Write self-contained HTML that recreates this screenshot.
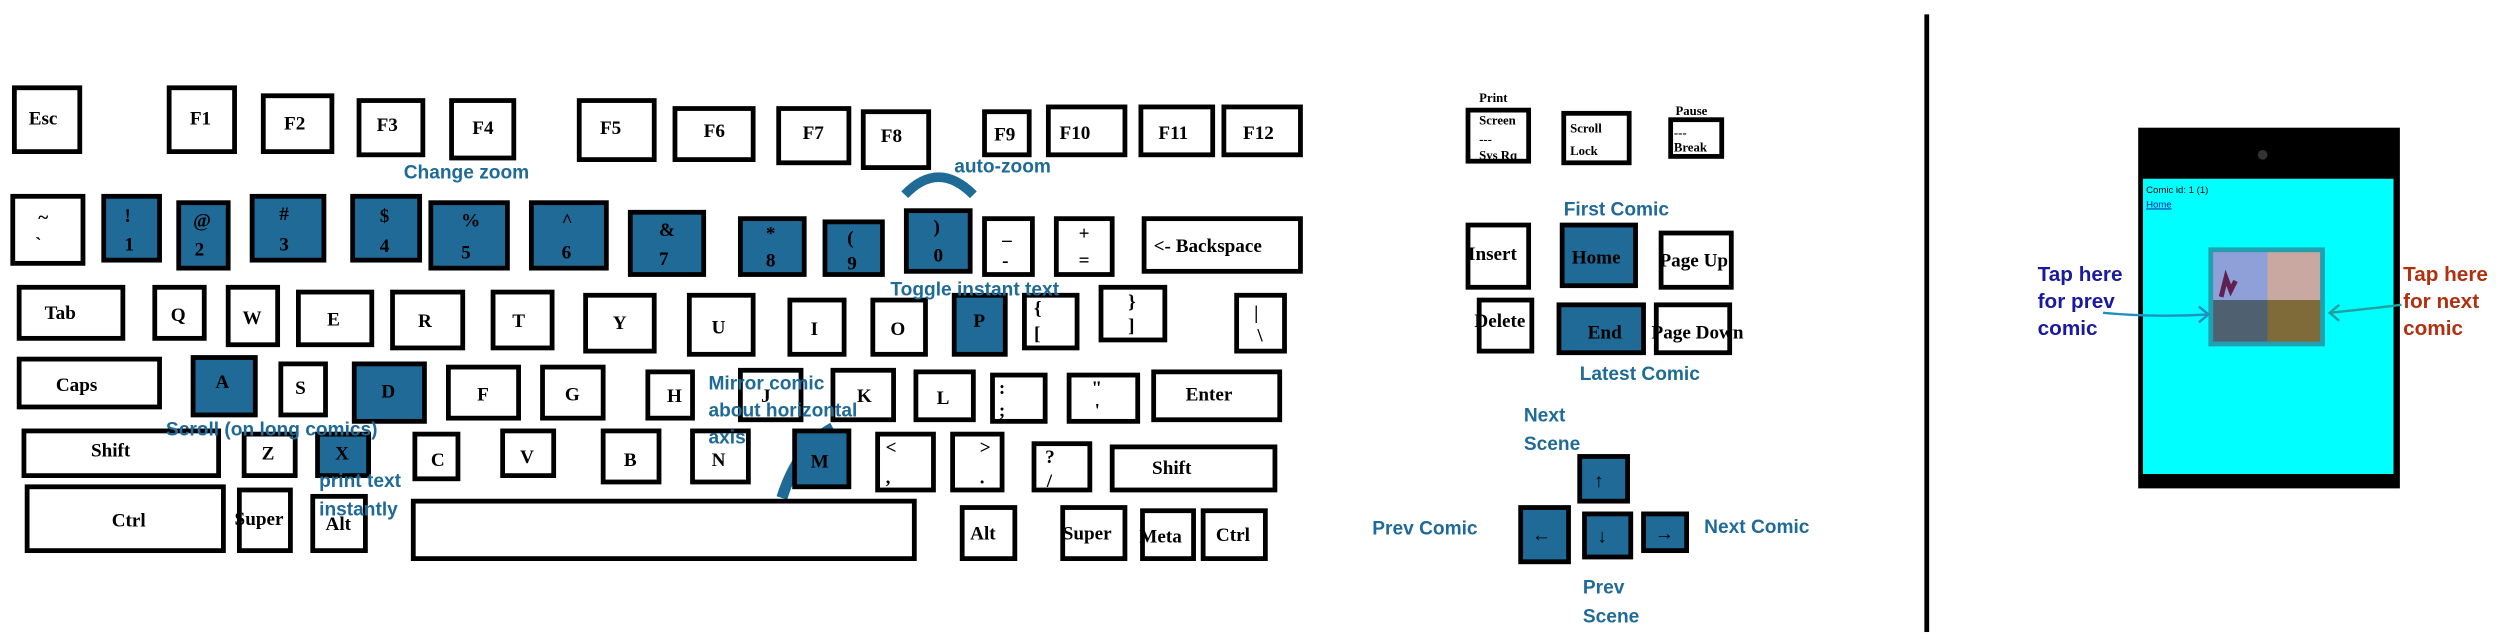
<!DOCTYPE html>
<html><head><meta charset="utf-8"><style>
html,body{margin:0;padding:0;background:#fff;}
svg{display:block;}
.k{fill:#fff;stroke:#000;stroke-width:3;}
.b{fill:#1f6a96;stroke:#000;stroke-width:3;}
.t{font-family:"Liberation Serif",serif;font-weight:bold;font-size:12px;fill:#000;}
.s{font-family:"Liberation Serif",serif;font-weight:bold;font-size:8px;fill:#000;}
.l{font-family:"Liberation Sans",sans-serif;font-weight:bold;font-size:12px;fill:#1f6a96;}
</style></head><body>
<svg width="2502" height="640" viewBox="0 0 1568 401" preserveAspectRatio="none" xmlns="http://www.w3.org/2000/svg">
<rect width="1568" height="401" fill="#fff"/>
<rect class="k" x="9" y="55" width="41" height="40"/><text class="t" x="18" y="78">Esc</text>
<rect class="k" x="106" y="55" width="41" height="40"/><text class="t" x="119" y="78">F1</text>
<rect class="k" x="165" y="60" width="43" height="35"/><text class="t" x="178" y="81">F2</text>
<rect class="k" x="225" y="63" width="40" height="34"/><text class="t" x="236" y="82">F3</text>
<rect class="k" x="283" y="63" width="39" height="36"/><text class="t" x="296" y="84">F4</text>
<rect class="k" x="363" y="63" width="47" height="37"/><text class="t" x="376" y="84">F5</text>
<rect class="k" x="423" y="68" width="49" height="32"/><text class="t" x="441" y="86">F6</text>
<rect class="k" x="488" y="68" width="44" height="34"/><text class="t" x="503" y="87">F7</text>
<rect class="k" x="541" y="70" width="41" height="35"/><text class="t" x="552" y="89">F8</text>
<rect class="k" x="617" y="70" width="28" height="27"/><text class="t" x="623" y="88">F9</text>
<rect class="k" x="657" y="67" width="48" height="30"/><text class="t" x="664" y="87">F10</text>
<rect class="k" x="715" y="67" width="45" height="30"/><text class="t" x="726" y="87">F11</text>
<rect class="k" x="767" y="67" width="48" height="30"/><text class="t" x="779" y="87">F12</text>
<text class="l" x="253" y="112" font-size="18">Change zoom</text>
<text class="l" x="598" y="108">auto-zoom</text>
<path d="M567 122 Q588 100 610 122" fill="none" stroke="#1f6a96" stroke-width="6"/>
<rect class="k" x="8" y="123" width="44" height="42"/><text class="t" x="24" y="140">~</text><text class="t" x="22" y="157">`</text>
<rect class="b" x="65" y="123" width="35" height="40"/><text class="t" x="78" y="139">!</text><text class="t" x="78" y="157">1</text>
<rect class="b" x="112" y="127" width="31" height="41"/><text class="t" x="121" y="142">@</text><text class="t" x="122" y="160">2</text>
<rect class="b" x="158" y="123" width="45" height="40"/><text class="t" x="175" y="138">#</text><text class="t" x="175" y="157">3</text>
<rect class="b" x="221" y="123" width="42" height="40"/><text class="t" x="238" y="139">$</text><text class="t" x="238" y="158">4</text>
<rect class="b" x="270" y="127" width="48" height="41"/><text class="t" x="289" y="142">%</text><text class="t" x="289" y="162">5</text>
<rect class="b" x="333" y="127" width="47" height="41"/><text class="t" x="352" y="142">^</text><text class="t" x="352" y="162">6</text>
<rect class="b" x="395" y="133" width="46" height="39"/><text class="t" x="413" y="148">&amp;</text><text class="t" x="413" y="166">7</text>
<rect class="b" x="464" y="137" width="40" height="35"/><text class="t" x="480" y="150">*</text><text class="t" x="480" y="167">8</text>
<rect class="b" x="517" y="139" width="36" height="33"/><text class="t" x="531" y="153">(</text><text class="t" x="531" y="169">9</text>
<rect class="b" x="568" y="132" width="40" height="38"/><text class="t" x="585" y="146">)</text><text class="t" x="585" y="164">0</text>
<rect class="k" x="617" y="137" width="30" height="35"/><text class="t" x="628" y="150">_</text><text class="t" x="628" y="167">-</text>
<rect class="k" x="662" y="137" width="35" height="35"/><text class="t" x="676" y="150">+</text><text class="t" x="676" y="167">=</text>
<rect class="k" x="717" y="137" width="98" height="33"/><text class="t" x="723" y="158">&lt;- Backspace</text>
<rect class="k" x="12" y="180" width="65" height="32"/><text class="t" x="28" y="200">Tab</text>
<rect class="k" x="97" y="180" width="31" height="32"/><text class="t" x="107" y="201">Q</text>
<rect class="k" x="143" y="180" width="31" height="36"/><text class="t" x="152" y="203">W</text>
<rect class="k" x="187" y="183" width="46" height="33"/><text class="t" x="205" y="204">E</text>
<rect class="k" x="246" y="183" width="44" height="35"/><text class="t" x="262" y="205">R</text>
<rect class="k" x="309" y="183" width="37" height="35"/><text class="t" x="321" y="205">T</text>
<rect class="k" x="367" y="185" width="43" height="35"/><text class="t" x="384" y="206">Y</text>
<rect class="k" x="432" y="185" width="40" height="37"/><text class="t" x="446" y="209">U</text>
<rect class="k" x="495" y="188" width="34" height="34"/><text class="t" x="508" y="210">I</text>
<rect class="k" x="547" y="188" width="33" height="34"/><text class="t" x="558" y="210">O</text>
<rect class="b" x="598" y="185" width="32" height="37"/><text class="t" x="610" y="205">P</text>
<rect class="k" x="642" y="185" width="33" height="33"/><text class="t" x="648" y="197">{</text><text class="t" x="648" y="213">[</text>
<rect class="k" x="690" y="180" width="40" height="33"/><text class="t" x="707" y="193">}</text><text class="t" x="707" y="208">]</text>
<rect class="k" x="775" y="185" width="30" height="35"/><text class="t" x="786" y="200">|</text><text class="t" x="788" y="214">\</text>
<rect class="k" x="12" y="225" width="88" height="30"/><text class="t" x="35" y="245">Caps</text>
<rect class="b" x="121" y="224" width="39" height="36"/><text class="t" x="135" y="243">A</text>
<rect class="k" x="176" y="228" width="28" height="32"/><text class="t" x="185" y="247">S</text>
<rect class="b" x="222" y="228" width="44" height="36"/><text class="t" x="239" y="249">D</text>
<rect class="k" x="281" y="230" width="44" height="32"/><text class="t" x="299" y="251">F</text>
<rect class="k" x="340" y="230" width="38" height="32"/><text class="t" x="354" y="251">G</text>
<rect class="k" x="406" y="233" width="28" height="29"/><text class="t" x="418" y="252">H</text>
<rect class="k" x="464" y="232" width="38" height="31"/><text class="t" x="477" y="252">J</text>
<rect class="k" x="522" y="232" width="38" height="31"/><text class="t" x="537" y="252">K</text>
<rect class="k" x="574" y="233" width="36" height="30"/><text class="t" x="587" y="253">L</text>
<rect class="k" x="622" y="235" width="33" height="29"/><text class="t" x="626" y="247">:</text><text class="t" x="626" y="261">;</text>
<rect class="k" x="670" y="235" width="43" height="29"/><text class="t" x="684" y="247">"</text><text class="t" x="686" y="261">'</text>
<rect class="k" x="723" y="233" width="79" height="30"/><text class="t" x="743" y="251">Enter</text>
<rect class="k" x="15" y="270" width="122" height="28"/><text class="t" x="57" y="286">Shift</text>
<rect class="k" x="153" y="272" width="32" height="26"/><text class="t" x="164" y="288">Z</text>
<rect class="b" x="199" y="272" width="32" height="26"/><text class="t" x="210" y="288">X</text>
<rect class="k" x="260" y="272" width="27" height="28"/><text class="t" x="270" y="292">C</text>
<rect class="k" x="315" y="270" width="32" height="28"/><text class="t" x="326" y="290">V</text>
<rect class="k" x="378" y="270" width="35" height="32"/><text class="t" x="391" y="292">B</text>
<rect class="k" x="434" y="270" width="35" height="32"/><text class="t" x="446" y="292">N</text>
<path d="M490 312 Q500 280 522 268" fill="none" stroke="#1f6a96" stroke-width="7"/>
<rect class="b" x="498" y="270" width="34" height="35"/><text class="t" x="508" y="293">M</text>
<rect class="k" x="550" y="272" width="35" height="35"/><text class="t" x="555" y="284">&lt;</text><text class="t" x="555" y="303">,</text>
<rect class="k" x="597" y="272" width="31" height="35"/><text class="t" x="614" y="284">&gt;</text><text class="t" x="614" y="303">.</text>
<rect class="k" x="648" y="278" width="35" height="29"/><text class="t" x="655" y="290">?</text><text class="t" x="656" y="305">/</text>
<rect class="k" x="697" y="280" width="102" height="27"/><text class="t" x="722" y="297">Shift</text>
<rect class="k" x="17" y="305" width="123" height="40"/><text class="t" x="70" y="330">Ctrl</text>
<rect class="k" x="150" y="307" width="32" height="38"/><text class="t" x="147" y="329">Super</text>
<rect class="k" x="196" y="311" width="33" height="34"/><text class="t" x="204" y="332">Alt</text>
<rect class="k" x="259" y="314" width="314" height="36"/>
<rect class="k" x="603" y="318" width="33" height="32"/><text class="t" x="608" y="338">Alt</text>
<rect class="k" x="666" y="318" width="39" height="32"/><text class="t" x="666" y="338">Super</text>
<rect class="k" x="716" y="320" width="32" height="30"/><text class="t" x="714" y="340">Meta</text>
<rect class="k" x="754" y="320" width="39" height="30"/><text class="t" x="762" y="339">Ctrl</text>
<text class="l" x="558" y="185">Toggle instant text</text>
<text class="l" x="444" y="244">Mirror comic</text>
<text class="l" x="444" y="261">about horizontal</text>
<text class="l" x="444" y="278">axis</text>
<text class="l" x="104" y="273">Scroll (on long comics)</text>
<text class="l" x="200" y="305">print text</text>
<text class="l" x="200" y="323">instantly</text>
<text class="s" x="927" y="64">Print</text>
<rect class="k" x="920" y="69" width="38" height="32"/><text class="s" x="927" y="78">Screen</text><text class="s" x="927" y="90">---</text><text class="s" x="927" y="100">Sys Rq</text>
<rect class="k" x="980" y="71" width="41" height="31"/><text class="s" x="984" y="83" font-size="10">Scroll</text><text class="s" x="984" y="97" font-size="10">Lock</text>
<text class="s" x="1050" y="72">Pause</text>
<rect class="k" x="1047" y="75" width="32" height="23"/><text class="s" x="1049" y="86">---</text><text class="s" x="1049" y="95">Break</text>
<text class="l" x="980" y="135">First Comic</text>
<rect class="k" x="920" y="141" width="38" height="39"/><text class="t" x="920" y="163">Insert</text>
<rect class="b" x="979" y="141" width="46" height="38"/><text class="t" x="985" y="165">Home</text>
<rect class="k" x="1041" y="146" width="44" height="34"/><text class="t" x="1040" y="167">Page Up</text>
<rect class="k" x="927" y="188" width="33" height="32"/><text class="t" x="924" y="205">Delete</text>
<rect class="b" x="977" y="191" width="53" height="30"/><text class="t" x="995" y="212">End</text>
<rect class="k" x="1038" y="191" width="46" height="30"/><text class="t" x="1035" y="212">Page Down</text>
<text class="l" x="990" y="238">Latest Comic</text>
<text class="l" x="955" y="264">Next</text>
<text class="l" x="955" y="282">Scene</text>
<rect class="b" x="990" y="286" width="30" height="28"/><text class="t" x="999" y="305">↑</text>
<rect class="b" x="953" y="318" width="30" height="34"/><text class="t" x="960" y="339">←</text>
<rect class="b" x="993" y="322" width="29" height="27"/><text class="t" x="1001" y="340">↓</text>
<rect class="b" x="1030" y="322" width="27" height="23"/><text class="t" x="1037" y="338">→</text>
<text class="l" x="860" y="335">Prev Comic</text>
<text class="l" x="1068" y="334">Next Comic</text>
<text class="l" x="992" y="372">Prev</text>
<text class="l" x="992" y="390">Scene</text>
<rect x="1206" y="9" width="3" height="387" fill="#000"/>
<rect x="1340" y="80" width="164" height="226" fill="#000"/>
<rect x="1343" y="112" width="157" height="185" fill="#00ffff"/>
<circle cx="1418" cy="97" r="3" fill="#333"/>
<text x="1345" y="121" font-family="Liberation Sans,sans-serif" font-size="6" fill="#000">Comic id: 1 (1)</text>
<text x="1345" y="130" font-family="Liberation Sans,sans-serif" font-size="6" fill="#1a1aa0" text-decoration="underline">Home</text>
<rect x="1384" y="155" width="73" height="62" fill="#20a0b0"/>
<rect x="1387" y="158" width="34" height="30" fill="#8f9fd8"/>
<rect x="1421" y="158" width="33" height="30" fill="#c8a8a0"/>
<rect x="1387" y="188" width="34" height="26" fill="#4f6070"/>
<rect x="1421" y="188" width="33" height="26" fill="#7f6a3a"/>
<path d="M1392 186 l3 -12 l3 8 l3 -6" stroke="#602050" stroke-width="3" fill="none"/>
<text x="1277" y="176" font-family="Liberation Sans,sans-serif" font-weight="bold" font-size="13" fill="#1a1aa0">Tap here</text>
<text x="1277" y="193" font-family="Liberation Sans,sans-serif" font-weight="bold" font-size="13" fill="#1a1aa0">for prev</text>
<text x="1277" y="210" font-family="Liberation Sans,sans-serif" font-weight="bold" font-size="13" fill="#1a1aa0">comic</text>
<text x="1506" y="176" font-family="Liberation Sans,sans-serif" font-weight="bold" font-size="13" fill="#b03010">Tap here</text>
<text x="1506" y="193" font-family="Liberation Sans,sans-serif" font-weight="bold" font-size="13" fill="#b03010">for next</text>
<text x="1506" y="210" font-family="Liberation Sans,sans-serif" font-weight="bold" font-size="13" fill="#b03010">comic</text>
<path d="M1318 196 Q1350 199 1384 197 M1378 192 l6 5 l-6 5" stroke="#2090c0" stroke-width="1.5" fill="none"/>
<path d="M1505 191 Q1480 194 1460 196 M1466 191 l-6 5 l6 5" stroke="#20a0a0" stroke-width="1.5" fill="none"/>
</svg>
</body></html>
